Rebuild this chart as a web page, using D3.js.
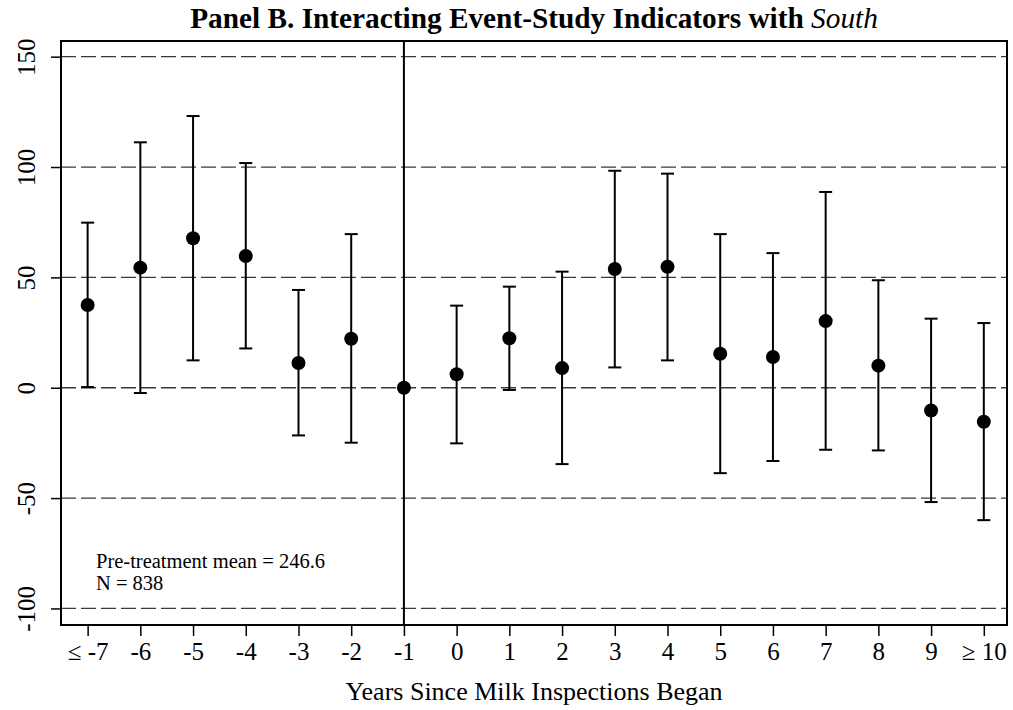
<!DOCTYPE html>
<html><head><meta charset="utf-8">
<script src="https://cdn.jsdelivr.net/npm/d3@7"></script>
<style>body{margin:0;background:#fff;} svg{display:block;}</style>
</head><body>
<script>
const categories = ["\u2264 -7","-6","-5","-4","-3","-2","-1","0","1","2","3","4","5","6","7","8","9","\u2265 10"];
const estimates = [37.5,54.4,67.7,59.7,11.2,22.2,0,6.1,22.4,8.9,53.8,54.8,15.4,13.9,30.2,10.0,-10.3,-15.4];
const upperCI   = [74.8,111.2,123.1,101.8,44.3,69.6,null,37.2,45.8,52.6,98.3,97.0,69.6,61.0,88.7,48.7,31.3,29.3];
const lowerCI   = [0.3,-2.4,12.4,17.8,-21.6,-24.9,null,-25.2,-1.0,-34.6,9.2,12.4,-38.7,-33.2,-28.1,-28.4,-51.8,-60.0];
const yTicks = [-100,-50,0,50,100,150];
const annotations = ["Pre-treatment mean = 246.6","N = 838"];

const W=1013,H=710;
const L=61,R=1007,T=41,B=625;
const svg=d3.select("body").append("svg").attr("width",W).attr("height",H);
const font="'Liberation Serif','Times New Roman',serif";

const x=d3.scaleLinear().domain([-0.505,17.44]).range([L,R]);
const y=d3.scaleLinear().domain([-107.5,157.1]).range([B,T]);

// grid
svg.append("g").selectAll("line").data(yTicks).join("line")
  .attr("x1",L).attr("x2",R).attr("y1",d=>y(d)).attr("y2",d=>y(d))
  .attr("stroke","#3a3a3a").attr("stroke-width",1.3).attr("stroke-dasharray","15,5");

// vertical reference line at -1
svg.append("line").attr("x1",x(6)).attr("x2",x(6)).attr("y1",T).attr("y2",B)
  .attr("stroke","#000").attr("stroke-width",2);

// y axis
const ya=svg.append("g").attr("transform",`translate(${L},0)`)
  .call(d3.axisLeft(y).tickValues(yTicks).tickSize(10).tickSizeOuter(0).tickFormat(d=>String(d)));
ya.select(".domain").remove();
ya.selectAll(".tick line").attr("stroke","#000").attr("stroke-width",1.5);
ya.selectAll(".tick text").attr("font-family",font).attr("font-size",25).attr("fill","#000")
  .attr("text-anchor","middle").attr("x",0).attr("y",0).attr("dy",0)
  .attr("transform",`translate(${35-L},0) rotate(-90)`);

// x axis
const xa=svg.append("g").attr("transform",`translate(0,${B})`)
  .call(d3.axisBottom(x).tickValues(d3.range(categories.length)).tickSize(11).tickSizeOuter(0)
  .tickFormat(i=>categories[i]));
xa.select(".domain").remove();
xa.selectAll(".tick line").attr("stroke","#000").attr("stroke-width",1.5);
xa.selectAll(".tick text").attr("font-family",font).attr("font-size",25).attr("fill","#000")
  .attr("y",35).attr("dy",0);

// frame
svg.append("rect").attr("x",L).attr("y",T).attr("width",R-L).attr("height",B-T)
  .attr("fill","none").attr("stroke","#000").attr("stroke-width",2);

// error bars
const data=categories.map((c,i)=>({i,est:estimates[i],lo:lowerCI[i],hi:upperCI[i]}));
const eb=data.filter(d=>d.lo!==null);
const g=svg.append("g");
g.selectAll(".v").data(eb).join("line")
  .attr("x1",d=>x(d.i)).attr("x2",d=>x(d.i)).attr("y1",d=>y(d.lo)).attr("y2",d=>y(d.hi))
  .attr("stroke","#000").attr("stroke-width",2);
g.selectAll(".cu").data(eb).join("line")
  .attr("x1",d=>x(d.i)-6.5).attr("x2",d=>x(d.i)+6.5).attr("y1",d=>y(d.hi)).attr("y2",d=>y(d.hi))
  .attr("stroke","#000").attr("stroke-width",2);
g.selectAll(".cl").data(eb).join("line")
  .attr("x1",d=>x(d.i)-6.5).attr("x2",d=>x(d.i)+6.5).attr("y1",d=>y(d.lo)).attr("y2",d=>y(d.lo))
  .attr("stroke","#000").attr("stroke-width",2);
g.selectAll("circle").data(data).join("circle")
  .attr("cx",d=>x(d.i)).attr("cy",d=>y(d.est)).attr("r",7).attr("fill","#000");

// annotation
svg.append("g").selectAll("text").data(annotations).join("text")
  .attr("x",96).attr("y",(d,i)=>568+i*21.5).text(d=>d)
  .attr("font-family",font).attr("font-size",20.5).attr("fill","#000");

// title
const t=svg.append("text").attr("x",(L+R)/2).attr("y",28).attr("text-anchor","middle")
  .attr("font-family",font).attr("font-size",29.3).attr("font-weight","bold").attr("fill","#000");
t.append("tspan").text("Panel B. Interacting Event-Study Indicators with ");
t.append("tspan").text("South").attr("font-style","italic").attr("font-weight","normal");

// x title
svg.append("text").attr("x",(L+R)/2).attr("y",700).attr("text-anchor","middle")
  .attr("font-family",font).attr("font-size",26).attr("fill","#000")
  .text("Years Since Milk Inspections Began");
</script>
</body></html>
